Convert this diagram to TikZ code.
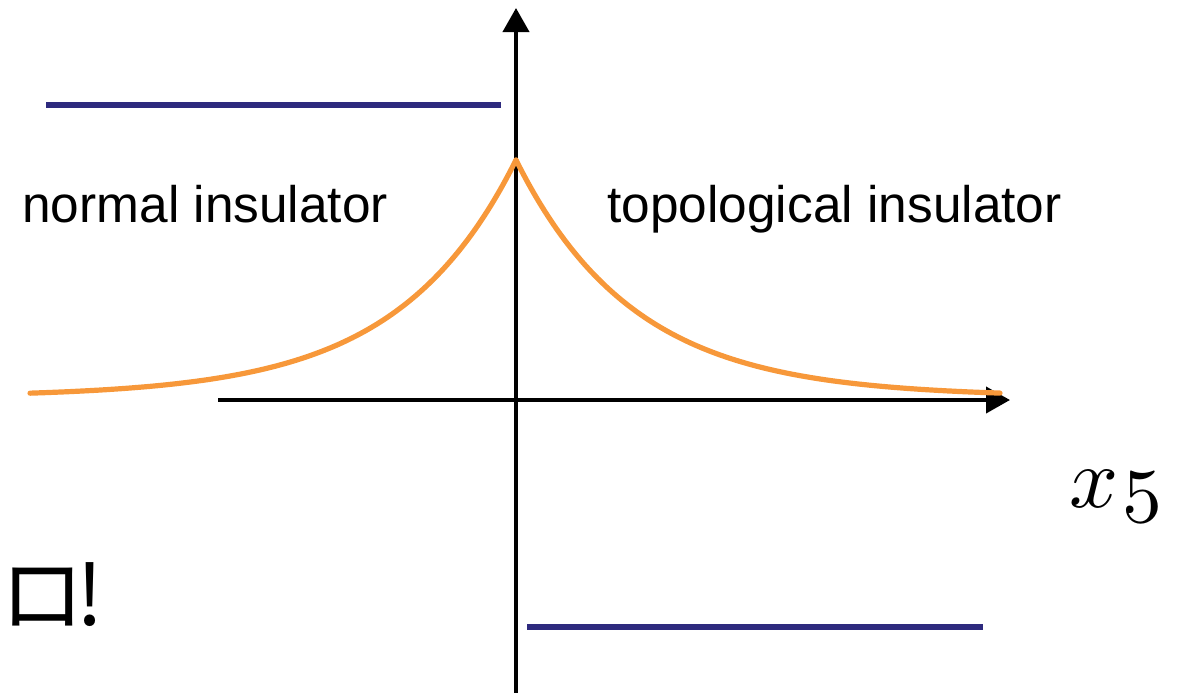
\documentclass[tikz,border=0pt]{standalone}
\usepackage{fontspec}
\setmainfont{Liberation Sans}
\newfontfamily\jpfont{Noto Sans CJK JP}
\usepackage{xcolor}
\definecolor{tiaxis}{HTML}{000000}
\definecolor{tiband}{HTML}{2E2A7E}
\definecolor{tiorange}{HTML}{F7983A}
\usetikzlibrary{arrows.meta}
\tikzset{
  tiaxisline/.style ={draw=tiaxis, line width=2pt, -{Triangle[length=12pt,width=13pt]}},
  tibandline/.style ={draw=tiband, line width=2.6pt},
  tiwave/.style     ={draw=tiorange, line width=2.6pt, line cap=round},
  tilbl/.style      ={font=\fontsize{25.7}{30}\selectfont, anchor=base west, inner sep=0pt, text=black},
}
\begin{document}
\begin{tikzpicture}[x=0.5pt, y=-0.5pt]
  \useasboundingbox (0,0) rectangle (1178,692);
  % axes
  \coordinate (vbot) at (516,700);
  \coordinate (vtop) at (516,8);
  \coordinate (hleft) at (218,400);
  \coordinate (hright) at (1010,400);
  \draw[tiaxisline] (vbot) -- (vtop);
  \draw[tiaxisline] (hleft) -- (hright);
  % bands
  \coordinate (bandLa) at (46,105);
  \coordinate (bandLb) at (501,105);
  \coordinate (bandRa) at (527,627);
  \coordinate (bandRb) at (983,627);
  \draw[tibandline] (bandLa) -- (bandLb);
  \draw[tibandline] (bandRa) -- (bandRb);
  % localized mode
  \draw[tiwave] plot[domain=0:486, samples=120] ({516-\x},{397-237*exp(-\x/118)});
  \draw[tiwave] plot[domain=0:484, samples=120] ({516+\x},{397-237*exp(-\x/118)});
  % labels
  \node[tilbl] (normal) at (22,222) {normal insulator};
  \node[tilbl] (topo) at (607,222) {topological insulator};
  \node[anchor=base west, inner sep=0pt, scale=4.3] (xfive) at (1068,507)
    {$x$\kern0.4pt\raisebox{-1.8pt}{\fontsize{8.6}{10}\selectfont$5$}};
  \node[anchor=base west, inner sep=0pt, font=\jpfont\fontsize{42}{48}\selectfont] (kana) at (0,625) {ロ\kern-4pt!};
\end{tikzpicture}
\end{document}
